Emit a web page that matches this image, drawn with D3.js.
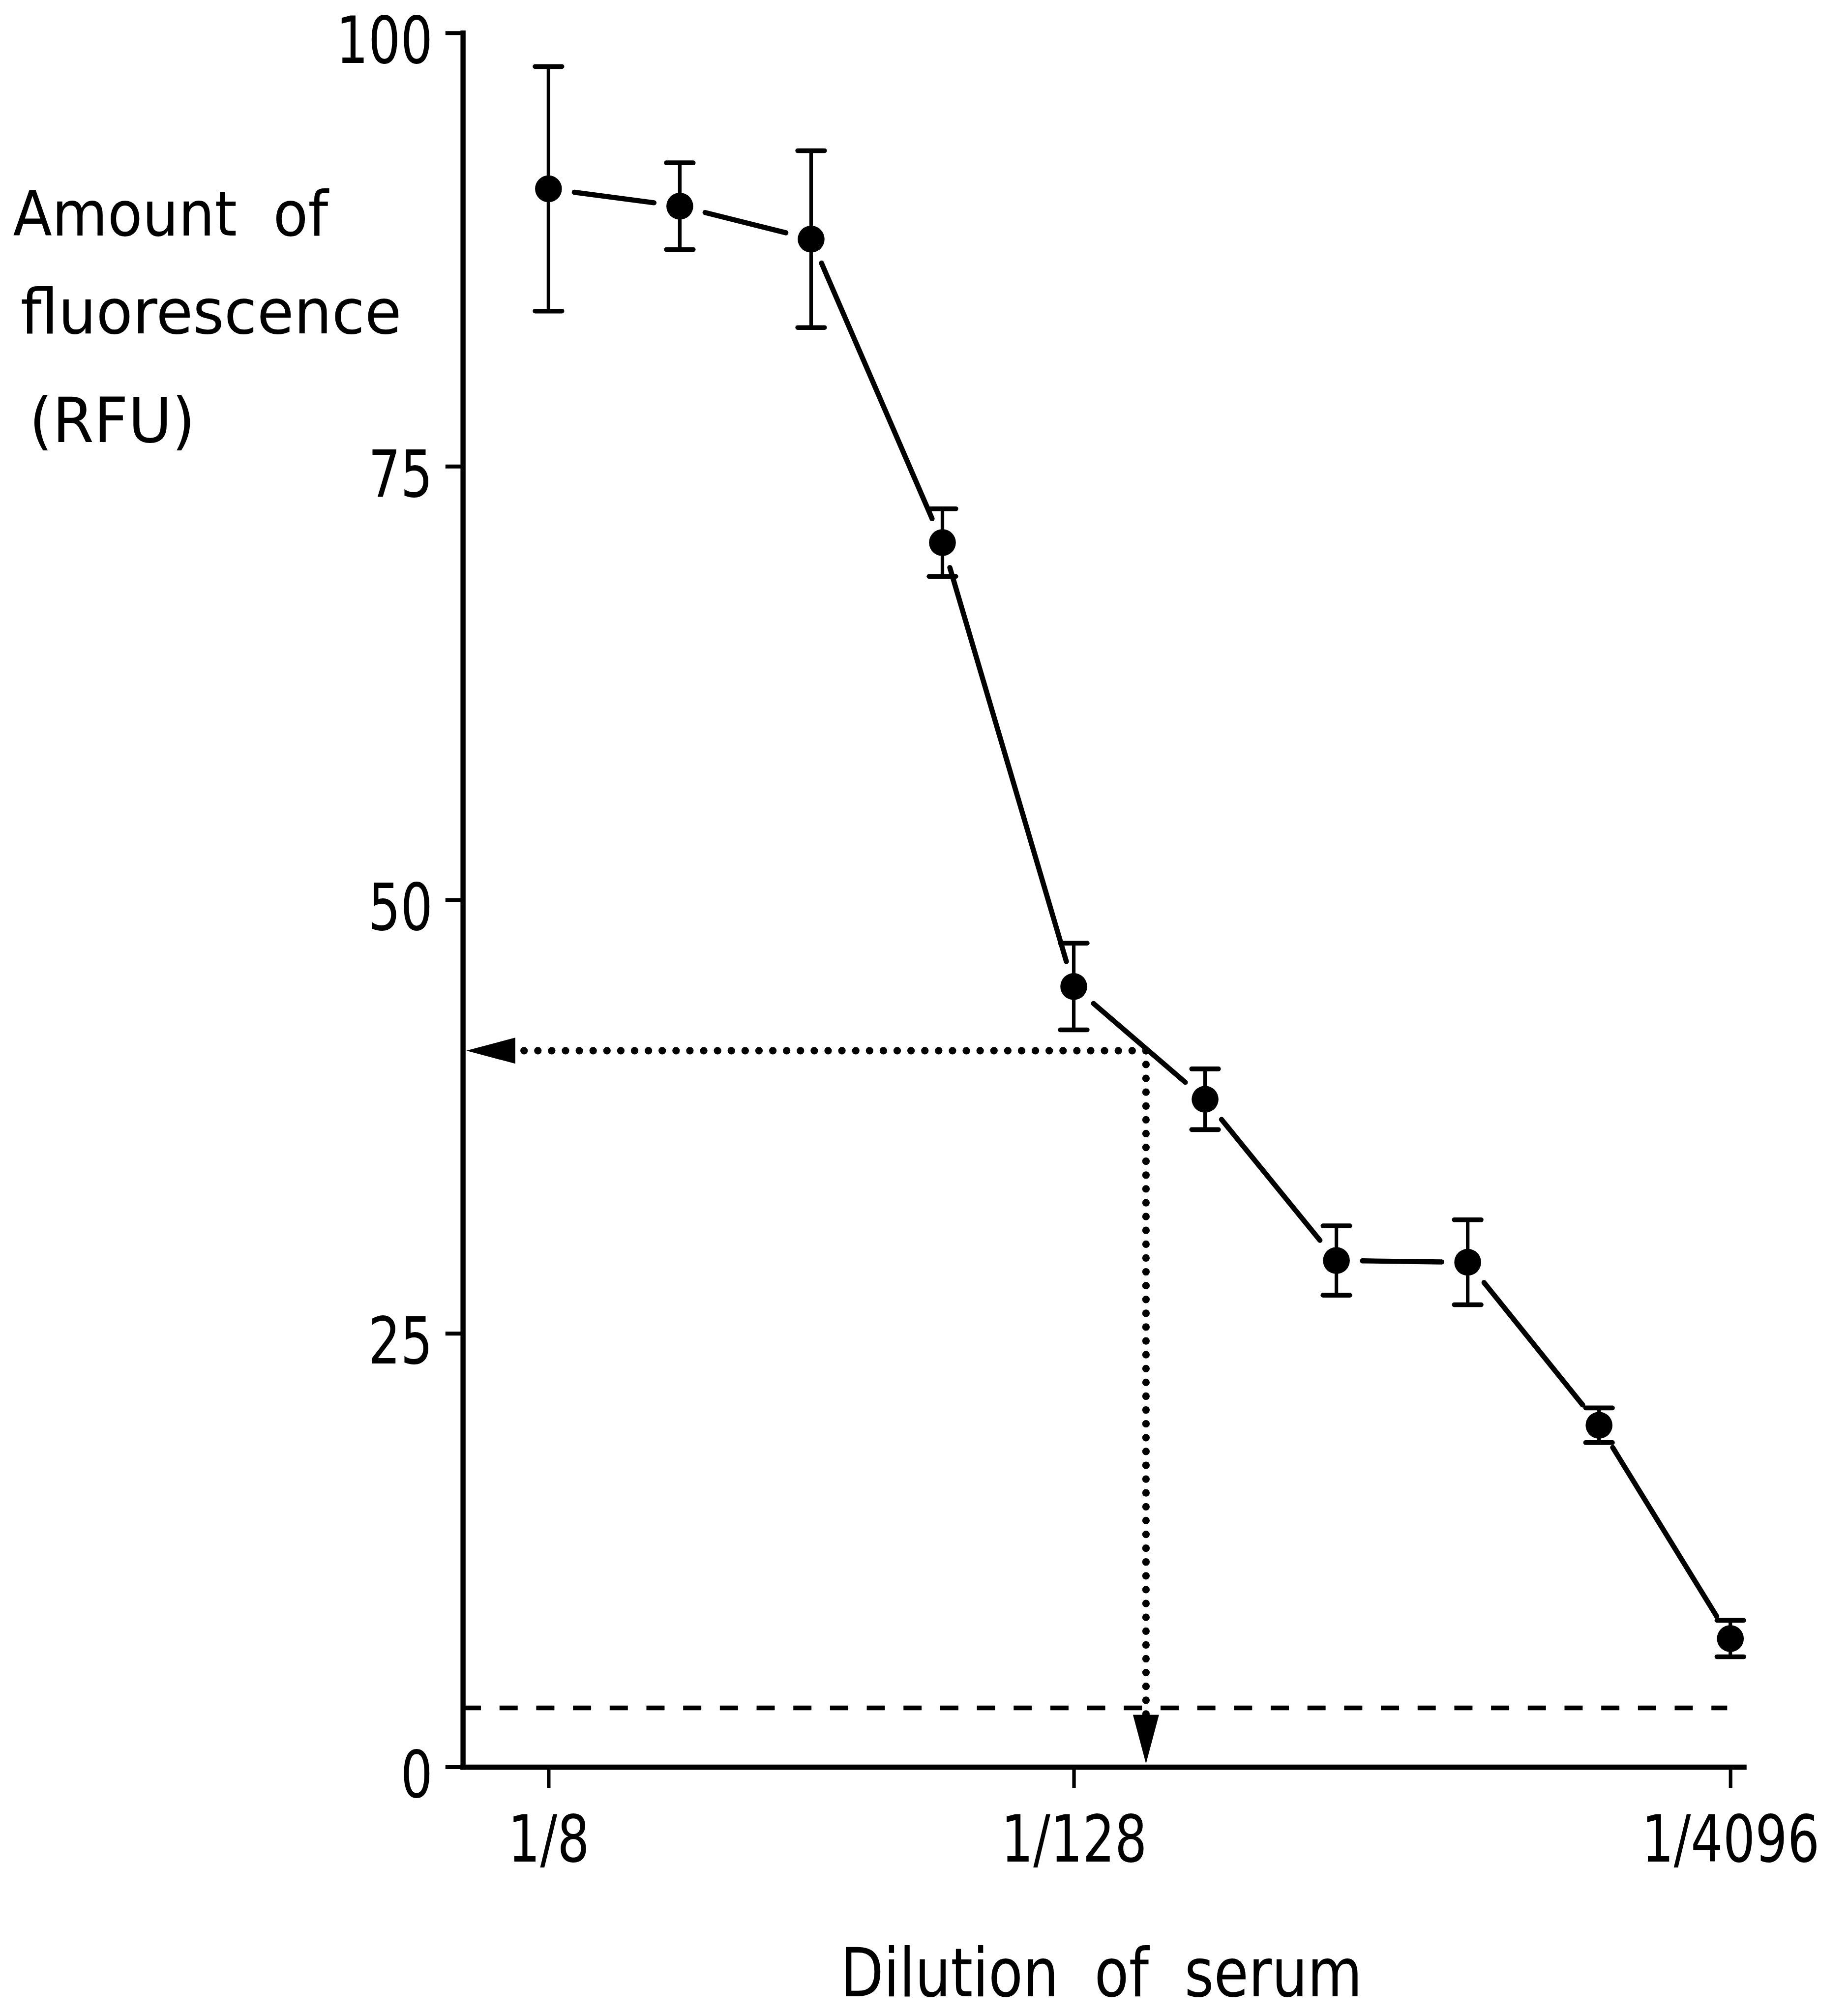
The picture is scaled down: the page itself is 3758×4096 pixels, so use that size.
<!DOCTYPE html>
<html><head><meta charset="utf-8">
<script src="https://cdn.jsdelivr.net/npm/d3@7"></script>
<style>html,body{margin:0;padding:0;background:#fff;} svg{display:block;}</style>
</head><body>
<script>
// ---------------- data ----------------
const dilutionLog2 = [3, 4, 5, 6, 7, 8, 9, 10, 11, 12];           // serum dilution = 1/2^n
const meanRFU      = [91.0, 90.0, 88.1, 70.6, 45.0, 38.5, 29.2, 29.1, 19.7, 7.4];
const errRFU       = [7.05, 2.5, 5.1, 1.95, 2.5, 1.75, 2.0, 2.45, 1.0, 1.05];
const yTickValues  = [0, 25, 50, 75, 100];
const xTickValues  = [3, 7, 12];
const xTickLabels  = ["1/8", "1/128", "1/4096"];
const cutoffRFU    = 41.3;   // read-off level (dotted horizontal arrow)
const titreLog2    = 7.55;   // resulting titre (dotted vertical arrow)
const backgroundRFU = 3.4;   // dashed background level
const yTitleLines  = ["Amount  of", "fluorescence", "(RFU)"];
const xTitle       = "Dilution  of  serum";

// ---------------- layout ----------------
const S = 0.803;
const W = 3758, H = 4096;
const FONT = "DejaVu Sans";
const SQUEEZE = 0.78;
const axisX = 1172 * S, axisRight = 4416 * S, axisY = 4475 * S, axisTop = 83 * S;

const x = d3.scaleLinear().domain([3, 12]).range([1389 * S, 4382 * S]);
const y = d3.scaleLinear().domain([0, 100]).range([axisY, axisTop]);

const svg = d3.select("body").append("svg")
  .attr("width", W).attr("height", H)
  .style("background", "#fff");

svg.append("rect").attr("width", W).attr("height", H).attr("fill", "#fff");

// ---------------- axes ----------------
const yTickSize = 44 * S, yPad = 32 * S;
const yAxis = d3.axisLeft(y)
  .tickValues(yTickValues)
  .tickFormat(d3.format("d"))
  .tickSize(yTickSize)
  .tickSizeOuter(0)
  .tickPadding(yPad);

const gy = svg.append("g").attr("transform", `translate(${axisX},0)`).call(yAxis);
gy.attr("font-family", FONT).attr("font-size", 132);
gy.select(".domain").attr("stroke", "#000").attr("stroke-width", 13 * S).attr("stroke-linecap", "square");
gy.selectAll(".tick line").attr("stroke", "#000").attr("stroke-width", 10 * S);
gy.selectAll(".tick text").attr("fill", "#000").attr("dy", "0.46em")
  .attr("x", -(yTickSize + yPad) / SQUEEZE)
  .attr("transform", `scale(${SQUEEZE},1)`);

const xAxisScale = x.copy()
  .domain([x.invert(axisX), x.invert(axisRight)])
  .range([axisX, axisRight]);

const xAxis = d3.axisBottom(xAxisScale)
  .tickValues(xTickValues)
  .tickFormat(d => xTickLabels[xTickValues.indexOf(d)])
  .tickSize(53 * S)
  .tickSizeOuter(0)
  .tickPadding(70 * S);

const gx = svg.append("g").attr("transform", `translate(0,${axisY})`).call(xAxis);
gx.attr("font-family", FONT).attr("font-size", 132);
gx.select(".domain").attr("stroke", "#000").attr("stroke-width", 13 * S).attr("stroke-linecap", "square");
gx.selectAll(".tick line").attr("stroke", "#000").attr("stroke-width", 9 * S);
gx.selectAll(".tick text").attr("fill", "#000").attr("transform", `scale(${SQUEEZE},1)`);

// ---------------- titles ----------------
const yTitlePos = [
  { x: 33 * S, y: 596 * S, len: 798 * S },
  { x: 52 * S, y: 844 * S, len: 965 * S },
  { x: 74 * S, y: 1119 * S, len: 420 * S }
];
svg.append("g").attr("font-family", FONT).attr("font-size", 126).attr("fill", "#000")
  .selectAll("text").data(yTitleLines).join("text")
  .attr("x", (d, i) => yTitlePos[i].x)
  .attr("y", (d, i) => yTitlePos[i].y)
  .attr("textLength", (d, i) => yTitlePos[i].len)
  .attr("lengthAdjust", "spacingAndGlyphs")
  .style("white-space", "pre")
  .text(d => d);

svg.append("text")
  .attr("font-family", FONT).attr("font-size", 138).attr("fill", "#000")
  .attr("x", 2128 * S).attr("y", 5056 * S)
  .attr("textLength", 1322 * S).attr("lengthAdjust", "spacingAndGlyphs")
  .style("white-space", "pre")
  .text(xTitle);

// ---------------- dashed background line ----------------
svg.append("line")
  .attr("x1", axisX).attr("x2", x(12) - 8 * S)
  .attr("y1", y(backgroundRFU)).attr("y2", y(backgroundRFU))
  .attr("stroke", "#000").attr("stroke-width", 12 * S)
  .attr("stroke-dasharray", `${46 * S} ${47 * S}`);

// ---------------- dotted read-off arrows ----------------
const dotW = 19 * S, dotGap = 35 * S;
const arrowLen = 124 * S, arrowHalf = 33 * S;
const hTipX = axisX + 9 * S, yc = y(cutoffRFU), xc = x(titreLog2);
const vTipY = axisY - 8 * S;

svg.append("line")
  .attr("x1", xc).attr("x2", hTipX + arrowLen)
  .attr("y1", yc).attr("y2", yc)
  .attr("stroke", "#000").attr("stroke-width", dotW)
  .attr("stroke-linecap", "round")
  .attr("stroke-dasharray", `0 ${dotGap}`);

svg.append("line")
  .attr("x1", xc).attr("x2", xc)
  .attr("y1", yc).attr("y2", vTipY - arrowLen)
  .attr("stroke", "#000").attr("stroke-width", dotW)
  .attr("stroke-linecap", "round")
  .attr("stroke-dasharray", `0 ${dotGap}`);

svg.append("path")
  .attr("d", `M${hTipX},${yc}L${hTipX + arrowLen},${yc - arrowHalf}L${hTipX + arrowLen},${yc + arrowHalf}Z`)
  .attr("fill", "#000");
svg.append("path")
  .attr("d", `M${xc},${vTipY}L${xc - arrowHalf},${vTipY - arrowLen}L${xc + arrowHalf},${vTipY - arrowLen}Z`)
  .attr("fill", "#000");

// ---------------- data marks ----------------
const pts = dilutionLog2.map((d, i) => ({ px: x(d), py: y(meanRFU[i]), m: meanRFU[i], e: errRFU[i] }));

// connecting segments with gaps around markers
const gap = 66 * S;
const segs = d3.pairs(pts).map(([a, b]) => {
  const dx = b.px - a.px, dy = b.py - a.py, L = Math.hypot(dx, dy);
  const ux = dx / L, uy = dy / L;
  return { x1: a.px + ux * gap, y1: a.py + uy * gap, x2: b.px - ux * gap, y2: b.py - uy * gap };
});
svg.append("g").selectAll("line").data(segs).join("line")
  .attr("x1", d => d.x1).attr("y1", d => d.y1)
  .attr("x2", d => d.x2).attr("y2", d => d.y2)
  .attr("stroke", "#000").attr("stroke-width", 13 * S).attr("stroke-linecap", "round");

// error bars
const capHalf = 34 * S;
const eb = svg.append("g").attr("stroke", "#000");
eb.selectAll("line.stem").data(pts).join("line").attr("class", "stem")
  .attr("x1", d => d.px).attr("x2", d => d.px)
  .attr("y1", d => y(d.m - d.e)).attr("y2", d => y(d.m + d.e))
  .attr("stroke-width", 9 * S);
eb.selectAll("line.capT").data(pts).join("line").attr("class", "capT")
  .attr("x1", d => d.px - capHalf).attr("x2", d => d.px + capHalf)
  .attr("y1", d => y(d.m + d.e)).attr("y2", d => y(d.m + d.e))
  .attr("stroke-width", 12 * S).attr("stroke-linecap", "round");
eb.selectAll("line.capB").data(pts).join("line").attr("class", "capB")
  .attr("x1", d => d.px - capHalf).attr("x2", d => d.px + capHalf)
  .attr("y1", d => y(d.m - d.e)).attr("y2", d => y(d.m - d.e))
  .attr("stroke-width", 12 * S).attr("stroke-linecap", "round");

// markers
svg.append("g").selectAll("circle").data(pts).join("circle")
  .attr("cx", d => d.px).attr("cy", d => d.py)
  .attr("r", 34 * S).attr("fill", "#000");
</script>
</body></html>
